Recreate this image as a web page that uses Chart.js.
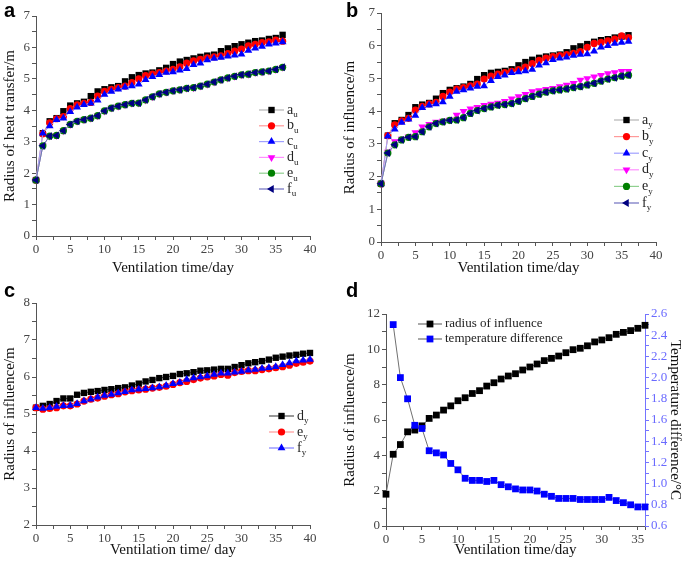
<!DOCTYPE html>
<html>
<head>
<meta charset="utf-8">
<script src="https://cdn.jsdelivr.net/npm/chart.js@4/dist/chart.umd.min.js"></script>
<style>
body{margin:0;background:#fff;width:685px;height:562px;position:relative;overflow:hidden}
canvas{position:absolute}
.tag{position:absolute;font:bold 20px "Liberation Sans",Arial,sans-serif;color:#000;line-height:20px}
</style>
</head>
<body>
<canvas id="ca" style="left:0;top:0" width="340" height="280"></canvas>
<canvas id="cb" style="left:340px;top:0" width="345" height="280"></canvas>
<canvas id="cc" style="left:0;top:280px" width="340" height="282"></canvas>
<canvas id="cd" style="left:340px;top:280px" width="345" height="282"></canvas>
<div class="tag" style="left:4px;top:0">a</div>
<div class="tag" style="left:346px;top:0">b</div>
<div class="tag" style="left:4px;top:280px">c</div>
<div class="tag" style="left:346px;top:280px">d</div>
<script>
// days on the x axis
var days36 = [0,1,2,3,4,5,6,7,8,9,10,11,12,13,14,15,16,17,18,19,20,21,22,23,24,25,26,27,28,29,30,31,32,33,34,35,36];
var days40 = [0,1,2,3,4,5,6,7,8,9,10,11,12,13,14,15,16,17,18,19,20,21,22,23,24,25,26,27,28,29,30,31,32,33,34,35,36,37,38,39,40];

// panel a - radius of heat transfer
var aU = [1.78,3.27,3.65,3.75,3.97,4.15,4.22,4.27,4.45,4.6,4.67,4.73,4.77,4.92,5.05,5.12,5.17,5.2,5.27,5.35,5.47,5.55,5.6,5.65,5.7,5.74,5.77,5.88,5.97,6.04,6.1,6.15,6.2,6.22,6.27,6.3,6.4];
var bU = [1.78,3.25,3.6,3.73,3.8,4.05,4.17,4.22,4.25,4.45,4.6,4.67,4.72,4.77,4.88,5.0,5.1,5.15,5.2,5.25,5.3,5.38,5.5,5.57,5.62,5.67,5.7,5.73,5.8,5.88,5.95,6.05,6.1,6.15,6.18,6.23,6.2];
var cU = [1.78,3.27,3.5,3.7,3.75,3.95,4.1,4.18,4.22,4.32,4.5,4.6,4.67,4.73,4.77,4.83,4.97,5.07,5.13,5.2,5.22,5.27,5.32,5.45,5.5,5.6,5.65,5.68,5.72,5.75,5.78,5.9,5.97,6.03,6.1,6.13,6.17];
var defU = [1.78,2.87,3.18,3.2,3.35,3.55,3.65,3.7,3.75,3.83,3.98,4.07,4.13,4.18,4.22,4.23,4.33,4.43,4.52,4.57,4.62,4.65,4.7,4.72,4.77,4.83,4.9,4.97,5.03,5.08,5.13,5.15,5.2,5.22,5.25,5.3,5.37];

// panel b - radius of influence
var aY = [1.78,3.25,3.63,3.73,3.88,4.12,4.2,4.25,4.38,4.55,4.65,4.7,4.75,4.83,4.98,5.1,5.17,5.2,5.23,5.28,5.4,5.5,5.57,5.63,5.67,5.7,5.73,5.8,5.92,5.98,6.05,6.12,6.17,6.2,6.25,6.28,6.32];
var bY = [1.78,3.25,3.58,3.7,3.78,4.03,4.15,4.22,4.27,4.45,4.58,4.67,4.72,4.77,4.83,4.98,5.07,5.13,5.18,5.22,5.27,5.35,5.45,5.55,5.62,5.67,5.7,5.73,5.77,5.82,5.95,6.07,6.1,6.15,6.2,6.3,6.25];
var cY = [1.78,3.23,3.45,3.65,3.75,3.87,4.1,4.18,4.22,4.28,4.45,4.6,4.65,4.7,4.75,4.77,4.93,5.05,5.1,5.17,5.2,5.23,5.27,5.4,5.47,5.57,5.62,5.65,5.7,5.73,5.75,5.83,5.95,6.0,6.07,6.1,6.13];
var dY = [1.78,2.75,3.07,3.15,3.22,3.35,3.52,3.6,3.67,3.7,3.73,3.88,4.0,4.07,4.12,4.18,4.22,4.25,4.3,4.38,4.45,4.52,4.6,4.63,4.67,4.7,4.75,4.8,4.85,4.95,5.0,5.05,5.1,5.15,5.18,5.22,5.22];
var efY = [1.78,2.72,2.97,3.12,3.2,3.22,3.37,3.52,3.62,3.67,3.72,3.73,3.8,3.93,4.02,4.08,4.13,4.18,4.2,4.23,4.3,4.38,4.45,4.52,4.58,4.62,4.65,4.68,4.72,4.75,4.8,4.85,4.92,4.98,5.02,5.07,5.1];

// panel c
var cDy = [5.17,5.22,5.27,5.35,5.42,5.42,5.52,5.57,5.6,5.62,5.65,5.67,5.7,5.72,5.77,5.82,5.88,5.92,5.97,6.0,6.03,6.08,6.1,6.13,6.17,6.18,6.2,6.22,6.22,6.27,6.32,6.37,6.4,6.43,6.47,6.52,6.55,6.58,6.6,6.63,6.65];
var cEy = [5.17,5.13,5.15,5.17,5.22,5.22,5.27,5.35,5.4,5.43,5.48,5.52,5.55,5.6,5.63,5.65,5.67,5.7,5.72,5.75,5.8,5.85,5.88,5.93,5.97,6.0,6.03,6.07,6.05,6.12,6.15,6.17,6.17,6.2,6.22,6.25,6.28,6.32,6.37,6.4,6.43];
var cFy = [5.17,5.15,5.17,5.2,5.22,5.23,5.28,5.35,5.4,5.45,5.5,5.53,5.57,5.6,5.65,5.67,5.68,5.7,5.73,5.77,5.82,5.85,5.93,5.97,6.0,6.03,6.07,6.1,6.1,6.13,6.15,6.18,6.2,6.23,6.25,6.28,6.33,6.38,6.43,6.45,6.47];

// panel d
var radiusD = [1.8,4.06,4.61,5.33,5.43,5.67,6.09,6.28,6.56,6.8,7.09,7.26,7.5,7.66,7.92,8.11,8.32,8.49,8.62,8.83,9.0,9.17,9.36,9.49,9.62,9.81,9.98,10.06,10.2,10.42,10.53,10.66,10.85,10.96,11.06,11.19,11.36];
var tempD = [null,2.5,2.0,1.8,1.55,1.52,1.31,1.29,1.27,1.19,1.13,1.05,1.03,1.03,1.02,1.03,0.99,0.97,0.95,0.94,0.94,0.93,0.9,0.88,0.86,0.86,0.86,0.85,0.85,0.85,0.85,0.87,0.84,0.82,0.8,0.78,0.78];

var SERIF = '"Liberation Serif","Times New Roman",serif';
Chart.defaults.font.family = SERIF;
Chart.defaults.animation = false;

var ST = {
  a: {line: '#b4b4b4', fill: '#000000', shape: 'rect', r: 4.5},
  b: {line: '#ff9a9a', fill: '#ff0000', shape: 'circle', r: 3.6},
  c: {line: '#a0a0ff', fill: '#0000ff', shape: 'triangle', r: 4.5},
  d: {line: '#ff90ff', fill: '#ff00ff', shape: 'triangle', r: 4.5, rot: 180},
  e: {line: '#90d090', fill: '#008000', shape: 'circle', r: 3.6},
  f: {line: '#7070c0', fill: '#000080', shape: 'triangle', r: 4.5, rot: 270}
};

function series(label, sub, xs, ys, st, extra) {
  var ds = {
    label: label, sub: sub,
    data: xs.map(function (x, i) { return {x: x, y: ys[i]}; }),
    borderColor: st.line, borderWidth: 1, tension: 0,
    pointStyle: st.shape, pointRotation: st.rot || 0, pointRadius: st.r,
    pointBackgroundColor: st.fill, pointBorderColor: st.fill, pointBorderWidth: 0,
    pointHoverRadius: st.r, clip: false
  };
  for (var k in extra || {}) ds[k] = extra[k];
  return ds;
}

function axis(o) {
  var col = o.color || '#555';
  var isMajor = function (v) { return Math.abs(v / o.major - Math.round(v / o.major)) < 1e-6; };
  return {
    type: 'linear', position: o.pos, min: o.min, max: o.max,
    afterFit: function (s) { if (o.pos === 'bottom') s.height = o.size; else s.width = o.size; },
    // every minor step gets a tick mark, labels only on the major ones
    afterBuildTicks: function (s) {
      var t = [];
      for (var k = 0; o.min + k * o.step <= o.max + 1e-9; k++) {
        t.push({value: Math.round((o.min + k * o.step) * 1e6) / 1e6});
      }
      if (Math.abs(t[t.length - 1].value - o.max) > 1e-9) t.push({value: o.max});
      s.ticks = t;
    },
    ticks: {
      autoSkip: false, maxRotation: 0, padding: 2,
      color: o.tickColor || '#444', font: {size: 13},
      callback: function (v) { return isMajor(v) ? (o.dec ? v.toFixed(o.dec) : String(Math.round(v))) : ''; }
    },
    grid: {drawOnChartArea: false, tickLength: 4, tickColor: col, tickWidth: 1},
    border: {display: true, color: col, width: 1},
    title: {display: true, text: o.title, color: '#111', font: {size: 15}, padding: {top: 1, bottom: 3}}
  };
}

function mark(ctx, shape, rot, r, x, y) {
  ctx.beginPath();
  if (shape === 'rect') {
    var s = r * Math.SQRT1_2;
    ctx.rect(x - s, y - s, 2 * s, 2 * s);
  } else if (shape === 'circle') {
    ctx.arc(x, y, r, 0, Math.PI * 2);
  } else {
    var rad = rot * Math.PI / 180;
    for (var k = 0; k < 3; k++) {
      var a = rad + k * 2 * Math.PI / 3;
      var px = x + Math.sin(a) * r, py = y - Math.cos(a) * r;
      if (k === 0) ctx.moveTo(px, py); else ctx.lineTo(px, py);
    }
    ctx.closePath();
  }
  ctx.fill();
}

// legend drawn inside the plot like in the original figure
var boxLegend = {
  id: 'boxLegend',
  afterDraw: function (chart, args, o) {
    var ctx = chart.ctx;
    chart.data.datasets.forEach(function (ds, i) {
      var y = o.y + i * o.dy;
      ctx.save();
      ctx.strokeStyle = o.line || ds.borderColor;
      ctx.lineWidth = 1.2;
      ctx.beginPath(); ctx.moveTo(o.x, y); ctx.lineTo(o.x + o.len, y); ctx.stroke();
      ctx.fillStyle = ds.pointBackgroundColor;
      mark(ctx, ds.pointStyle, ds.pointRotation, ds.pointRadius, o.x + o.len / 2, y);
      ctx.fillStyle = '#222';
      ctx.textBaseline = 'middle';
      ctx.font = o.size + 'px ' + SERIF;
      var tx = o.x + o.len + 3;
      ctx.fillText(ds.label, tx, y);
      if (ds.sub) {
        var w = ctx.measureText(ds.label).width;
        ctx.font = Math.round(o.size * 0.62) + 'px ' + SERIF;
        ctx.fillText(ds.sub, tx + w, y + 5);
      }
      ctx.restore();
    });
  }
};

function ordered(list) {
  list.forEach(function (d, i) { d.order = -i; });
  return list;
}

function basic(id, datasets, xo, yo, pad, leg) {
  return new Chart(document.getElementById(id), {
    type: 'line',
    data: {datasets: ordered(datasets)},
    options: {
      responsive: false,
      layout: {padding: pad},
      plugins: {legend: {display: false}, tooltip: {enabled: false}, boxLegend: leg},
      scales: {x: axis(xo), y: axis(yo)}
    },
    plugins: [boxLegend]
  });
}

basic('ca', [
  series('a', 'u', days36, aU, ST.a),
  series('b', 'u', days36, bU, ST.b),
  series('c', 'u', days36, cU, ST.c),
  series('d', 'u', days36, defU, ST.d),
  series('e', 'u', days36, defU, ST.e),
  series('f', 'u', days36, defU, ST.f)
], {pos: 'bottom', min: 0, max: 40, step: 2.5, major: 5, size: 44, title: 'Ventilation time/day'},
   {pos: 'left', min: 0, max: 7, step: 0.5, major: 1, size: 36, title: 'Radius of heat transfer/m'},
   {left: 0, top: 16, right: 30, bottom: 0},
   {x: 259, y: 110, dy: 15.8, len: 25, size: 14});

basic('cb', [
  series('a', 'y', days36, aY, ST.a),
  series('b', 'y', days36, bY, ST.b),
  series('c', 'y', days36, cY, ST.c),
  series('d', 'y', days36, dY, ST.d),
  series('e', 'y', days36, efY, ST.e),
  series('f', 'y', days36, efY, ST.f)
], {pos: 'bottom', min: 0, max: 40, step: 2.5, major: 5, size: 38, title: 'Ventilation time/day'},
   {pos: 'left', min: 0, max: 7, step: 0.5, major: 1, size: 41, title: 'Radius of influence/m'},
   {left: 0, top: 13, right: 29, bottom: 0},
   {x: 274, y: 120, dy: 16.6, len: 25, size: 14});

basic('cc', [
  series('d', 'y', days40, cDy, {line: '#555555', fill: '#000000', shape: 'rect', r: 4.5}),
  series('e', 'y', days40, cEy, {line: '#ff9a9a', fill: '#ff0000', shape: 'circle', r: 3.6}),
  series('f', 'y', days40, cFy, {line: '#8080ff', fill: '#0000ff', shape: 'triangle', r: 4.5})
], {pos: 'bottom', min: 0, max: 40, step: 2.5, major: 5, size: 37, title: 'Ventilation time/ day'},
   {pos: 'left', min: 2, max: 8, step: 0.5, major: 1, size: 36, title: 'Radius of influence/m'},
   {left: 0, top: 23, right: 30, bottom: 0},
   {x: 269, y: 136, dy: 16, len: 25, size: 14});

var xD = axis({pos: 'bottom', min: 0, max: 36, step: 2.5, major: 5, size: 36, title: 'Ventilation time/day'});
var yD = axis({pos: 'left', min: 0, max: 12, step: 1, major: 2, size: 46, title: 'Radius of influence/m'});
var y2D = axis({pos: 'right', min: 0.6, max: 2.6, step: 0.1, major: 0.2, dec: 1, size: 40,
  color: '#7474ff', tickColor: '#6a6aff', title: 'Temperature difference/\u00b0C'});

new Chart(document.getElementById('cd'), {
  type: 'line',
  data: {datasets: ordered([
    series('radius of influence', '', days36, radiusD, {line: '#707070', fill: '#000000', shape: 'rect', r: 4.8}, {yAxisID: 'y'}),
    series('temperature difference', '', days36, tempD, {line: '#707070', fill: '#0000ff', shape: 'rect', r: 4.8}, {yAxisID: 'y2'})
  ])},
  options: {
    responsive: false,
    layout: {padding: {left: 0, top: 34, right: 0, bottom: 0}},
    plugins: {legend: {display: false}, tooltip: {enabled: false},
      boxLegend: {x: 78, y: 44, dy: 15, len: 24, size: 13, line: '#707070'}},
    scales: {x: xD, y: yD, y2: y2D}
  },
  plugins: [boxLegend]
});
</script>
</body>
</html>
